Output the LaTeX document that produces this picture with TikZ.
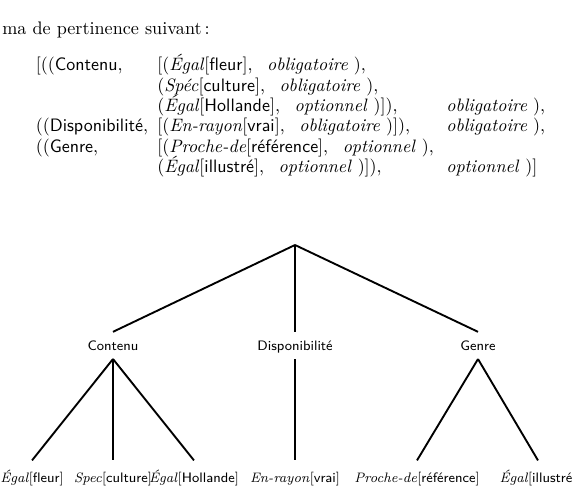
\documentclass[tikz,border=0pt]{standalone}
\usepackage{fontspec}
\newcommand\Ki[1]{\textit{#1}}
\newcommand\Ks[1]{\textsf{#1}}
\newcommand\Kg{\hspace{8.5pt}}
\begin{document}
\begin{tikzpicture}[x=0.584pt,y=-0.584pt]
\useasboundingbox (0,0) rectangle (572,503);
\tikzset{
  txt/.style={anchor=base west, inner sep=0pt, font=\fontsize{10.5}{12}\selectfont},
  lbl/.style={font=\footnotesize, inner xsep=1pt, inner ysep=3pt, text height=8pt, text depth=1.5pt, anchor=base},
  leaf/.style={lbl, text height=10pt},
  branch/.style={line width=1.1pt}
}
\node[txt, font=\fontsize{10.6}{12}\selectfont] (intro) at (2,35) {ma de pertinence suivant\,:};
% list
\node[txt] (r1a) at (35.5,71) {[((\Ks{Contenu},};
\node[txt] (r1b) at (157,71) {[(\Ki{Égal}[\Ks{fleur}],\Kg\Ki{obligatoire}\ ),};
\node[txt] (r2b) at (157,91.3) {(\Ki{Spéc}[\Ks{culture}],\Kg\Ki{obligatoire}\ ),};
\node[txt] (r3b) at (157,111.6) {(\Ki{Égal}[\Ks{Hollande}],\Kg\Ki{optionnel}\ )]),};
\node[txt] (r3c) at (446,111.6) {\Ki{obligatoire}\ ),};
\node[txt] (r4a) at (35.5,132) {((\Ks{Disponibilité},};
\node[txt] (r4b) at (157,132) {[(\Ki{En-rayon}[\Ks{vrai}],\Kg\Ki{obligatoire}\ )]),};
\node[txt] (r4c) at (446,132) {\Ki{obligatoire}\ ),};
\node[txt] (r5a) at (35.5,152.3) {((\Ks{Genre},};
\node[txt] (r5b) at (157,152.3) {[(\Ki{Proche-de}[\Ks{référence}],\Kg\Ki{optionnel}\ ),};
\node[txt] (r6b) at (157,172.6) {(\Ki{Égal}[\Ks{illustré}],\Kg\Ki{optionnel}\ )]),};
\node[txt] (r6c) at (446,172.6) {\Ki{optionnel}\ )]};
% tree
\coordinate (root) at (295,245);
\node[lbl] (cont) at (113,351) {\sffamily Contenu};
\node[lbl] (disp) at (295,351) {\sffamily Disponibilité};
\node[lbl] (genre) at (478,351) {\sffamily Genre};
\node[leaf] (l1) at (32,483) {\Ki{Égal}[\Ks{fleur}]};
\node[leaf] (l2) at (113,483) {\Ki{Spec}[\Ks{culture}]};
\node[leaf] (l3) at (194,483) {\Ki{Égal}[\Ks{Hollande}]};
\node[leaf] (l4) at (295,483) {\Ki{En-rayon}[\Ks{vrai}]};
\node[leaf] (l5) at (417,483) {\Ki{Proche-de}[\Ks{référence}]};
\node[leaf] (l6) at (538,483) {\Ki{Égal}[\Ks{illustré}]};
\draw[branch] (root) -- (cont.north);
\draw[branch] (root) -- (disp.north);
\draw[branch] (root) -- (genre.north);
\draw[branch] (cont.south) -- (l1.north);
\draw[branch] (cont.south) -- (l2.north);
\draw[branch] (cont.south) -- (l3.north);
\draw[branch] (disp.south) -- (l4.north);
\draw[branch] (genre.south) -- (l5.north);
\draw[branch] (genre.south) -- (l6.north);
\end{tikzpicture}
\end{document}
